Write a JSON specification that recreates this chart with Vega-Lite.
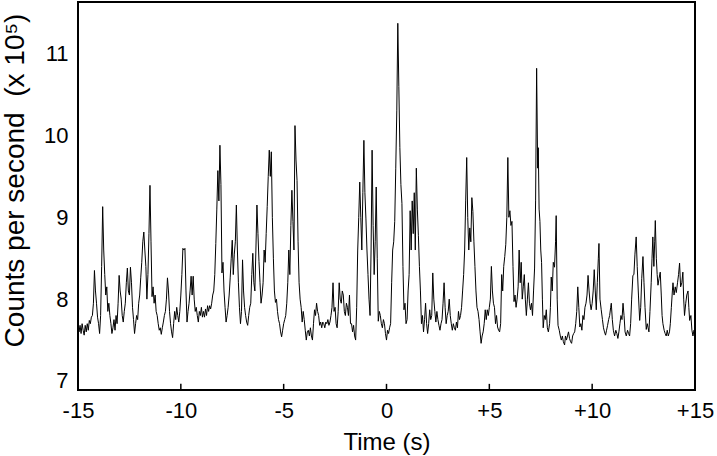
{
"$schema": "https://vega.github.io/schema/vega-lite/v6.json",
"width": 617, "height": 388,
"autosize": {"type": "none"},
"padding": {"left": 78, "top": 2, "right": 22, "bottom": 66},
"background": "white",
"config": {"view": {"stroke": "black", "strokeWidth": 2}, "font": "Liberation Sans"},
"layer": [
{
"data": {"values": [
{"t":-15.0,"v":7.72},{"t":-14.95,"v":7.60},{"t":-14.9,"v":7.68},{"t":-14.85,"v":7.58},{"t":-14.8,"v":7.70},{"t":-14.75,"v":7.62},{"t":-14.7,"v":7.56},{"t":-14.65,"v":7.68},{"t":-14.6,"v":7.60},{"t":-14.55,"v":7.70},{"t":-14.5,"v":7.62},{"t":-14.45,"v":7.74},{"t":-14.4,"v":7.70},{"t":-14.35,"v":7.78},{"t":-14.3,"v":7.80},{"t":-14.25,"v":7.95},{"t":-14.2,"v":8.35},{"t":-14.15,"v":8.10},{"t":-14.1,"v":7.95},{"t":-14.05,"v":7.78},{"t":-14.0,"v":7.70},{"t":-13.95,"v":7.58},{"t":-13.9,"v":7.80},{"t":-13.85,"v":8.40},{"t":-13.8,"v":9.13},{"t":-13.75,"v":8.60},{"t":-13.7,"v":8.30},{"t":-13.65,"v":8.05},{"t":-13.6,"v":8.15},{"t":-13.55,"v":7.85},{"t":-13.5,"v":7.95},{"t":-13.45,"v":7.80},{"t":-13.4,"v":7.70},{"t":-13.35,"v":7.58},{"t":-13.3,"v":7.65},{"t":-13.25,"v":7.75},{"t":-13.2,"v":7.62},{"t":-13.15,"v":7.80},{"t":-13.1,"v":7.70},{"t":-13.05,"v":7.95},{"t":-13.0,"v":8.29},{"t":-12.95,"v":8.10},{"t":-12.9,"v":8.00},{"t":-12.85,"v":7.80},{"t":-12.8,"v":7.72},{"t":-12.75,"v":7.85},{"t":-12.7,"v":7.95},{"t":-12.65,"v":8.20},{"t":-12.6,"v":8.38},{"t":-12.55,"v":8.10},{"t":-12.5,"v":8.05},{"t":-12.45,"v":8.39},{"t":-12.4,"v":8.20},{"t":-12.35,"v":7.90},{"t":-12.3,"v":7.75},{"t":-12.25,"v":7.58},{"t":-12.2,"v":7.70},{"t":-12.15,"v":7.80},{"t":-12.1,"v":7.75},{"t":-12.05,"v":7.95},{"t":-12.0,"v":8.05},{"t":-11.95,"v":8.26},{"t":-11.9,"v":8.45},{"t":-11.85,"v":8.70},{"t":-11.8,"v":8.82},{"t":-11.75,"v":8.60},{"t":-11.7,"v":8.40},{"t":-11.65,"v":8.00},{"t":-11.6,"v":8.30},{"t":-11.55,"v":8.80},{"t":-11.5,"v":9.39},{"t":-11.45,"v":8.70},{"t":-11.4,"v":8.03},{"t":-11.35,"v":8.15},{"t":-11.3,"v":7.95},{"t":-11.25,"v":8.05},{"t":-11.2,"v":7.85},{"t":-11.15,"v":7.80},{"t":-11.1,"v":7.70},{"t":-11.05,"v":7.62},{"t":-11.0,"v":7.65},{"t":-10.95,"v":7.57},{"t":-10.9,"v":7.65},{"t":-10.85,"v":7.72},{"t":-10.8,"v":7.80},{"t":-10.75,"v":7.85},{"t":-10.7,"v":8.00},{"t":-10.65,"v":8.26},{"t":-10.6,"v":8.10},{"t":-10.55,"v":7.85},{"t":-10.5,"v":7.70},{"t":-10.45,"v":7.60},{"t":-10.4,"v":7.53},{"t":-10.35,"v":7.70},{"t":-10.3,"v":7.85},{"t":-10.25,"v":7.75},{"t":-10.2,"v":7.90},{"t":-10.15,"v":7.80},{"t":-10.1,"v":7.72},{"t":-10.05,"v":7.85},{"t":-10.0,"v":8.05},{"t":-9.95,"v":8.30},{"t":-9.9,"v":8.62},{"t":-9.85,"v":8.60},{"t":-9.8,"v":8.62},{"t":-9.75,"v":8.10},{"t":-9.7,"v":7.72},{"t":-9.65,"v":7.85},{"t":-9.6,"v":7.95},{"t":-9.55,"v":8.10},{"t":-9.5,"v":8.28},{"t":-9.45,"v":8.05},{"t":-9.4,"v":8.28},{"t":-9.35,"v":8.00},{"t":-9.3,"v":7.85},{"t":-9.25,"v":7.90},{"t":-9.2,"v":7.80},{"t":-9.15,"v":7.72},{"t":-9.1,"v":7.85},{"t":-9.05,"v":7.80},{"t":-9.0,"v":7.90},{"t":-8.95,"v":7.78},{"t":-8.9,"v":7.85},{"t":-8.85,"v":7.78},{"t":-8.8,"v":7.88},{"t":-8.75,"v":7.80},{"t":-8.7,"v":7.92},{"t":-8.65,"v":7.85},{"t":-8.6,"v":7.92},{"t":-8.55,"v":7.88},{"t":-8.5,"v":7.95},{"t":-8.45,"v":8.05},{"t":-8.4,"v":8.10},{"t":-8.35,"v":8.30},{"t":-8.3,"v":8.68},{"t":-8.25,"v":9.10},{"t":-8.2,"v":9.57},{"t":-8.15,"v":9.20},{"t":-8.1,"v":9.88},{"t":-8.05,"v":9.40},{"t":-8.0,"v":8.32},{"t":-7.95,"v":8.45},{"t":-7.9,"v":8.10},{"t":-7.85,"v":7.90},{"t":-7.8,"v":7.72},{"t":-7.75,"v":7.80},{"t":-7.7,"v":7.90},{"t":-7.65,"v":8.05},{"t":-7.6,"v":8.26},{"t":-7.55,"v":8.50},{"t":-7.5,"v":8.72},{"t":-7.45,"v":8.30},{"t":-7.4,"v":8.55},{"t":-7.35,"v":8.70},{"t":-7.3,"v":9.15},{"t":-7.25,"v":8.60},{"t":-7.2,"v":8.20},{"t":-7.15,"v":7.90},{"t":-7.1,"v":7.70},{"t":-7.05,"v":7.85},{"t":-7.0,"v":8.48},{"t":-6.95,"v":8.10},{"t":-6.9,"v":7.90},{"t":-6.85,"v":7.80},{"t":-6.8,"v":7.72},{"t":-6.75,"v":7.68},{"t":-6.7,"v":7.80},{"t":-6.65,"v":7.90},{"t":-6.6,"v":7.95},{"t":-6.55,"v":8.30},{"t":-6.5,"v":8.56},{"t":-6.45,"v":8.20},{"t":-6.4,"v":8.10},{"t":-6.35,"v":8.60},{"t":-6.3,"v":9.15},{"t":-6.25,"v":8.80},{"t":-6.2,"v":8.46},{"t":-6.15,"v":8.20},{"t":-6.1,"v":7.95},{"t":-6.05,"v":8.05},{"t":-6.0,"v":8.20},{"t":-5.95,"v":8.60},{"t":-5.9,"v":8.45},{"t":-5.85,"v":8.80},{"t":-5.8,"v":9.13},{"t":-5.75,"v":9.50},{"t":-5.7,"v":9.82},{"t":-5.65,"v":9.50},{"t":-5.6,"v":9.80},{"t":-5.55,"v":9.00},{"t":-5.5,"v":8.50},{"t":-5.45,"v":8.10},{"t":-5.4,"v":7.96},{"t":-5.35,"v":8.00},{"t":-5.3,"v":7.85},{"t":-5.25,"v":7.75},{"t":-5.2,"v":7.70},{"t":-5.15,"v":7.60},{"t":-5.1,"v":7.54},{"t":-5.05,"v":7.62},{"t":-5.0,"v":7.70},{"t":-4.95,"v":7.75},{"t":-4.9,"v":7.80},{"t":-4.85,"v":7.95},{"t":-4.8,"v":8.20},{"t":-4.75,"v":8.60},{"t":-4.7,"v":8.30},{"t":-4.65,"v":8.90},{"t":-4.6,"v":9.33},{"t":-4.55,"v":8.95},{"t":-4.5,"v":8.60},{"t":-4.45,"v":10.12},{"t":-4.4,"v":9.70},{"t":-4.35,"v":9.45},{"t":-4.3,"v":8.70},{"t":-4.25,"v":8.20},{"t":-4.2,"v":8.00},{"t":-4.15,"v":7.90},{"t":-4.1,"v":7.72},{"t":-4.05,"v":7.85},{"t":-4.0,"v":7.75},{"t":-3.95,"v":7.62},{"t":-3.9,"v":7.50},{"t":-3.85,"v":7.60},{"t":-3.8,"v":7.62},{"t":-3.75,"v":7.55},{"t":-3.7,"v":7.65},{"t":-3.65,"v":7.55},{"t":-3.6,"v":7.50},{"t":-3.55,"v":7.70},{"t":-3.5,"v":7.87},{"t":-3.45,"v":7.80},{"t":-3.4,"v":7.95},{"t":-3.35,"v":7.85},{"t":-3.3,"v":7.80},{"t":-3.25,"v":7.68},{"t":-3.2,"v":7.72},{"t":-3.15,"v":7.65},{"t":-3.1,"v":7.72},{"t":-3.05,"v":7.70},{"t":-3.0,"v":7.65},{"t":-2.95,"v":7.72},{"t":-2.9,"v":7.70},{"t":-2.85,"v":7.75},{"t":-2.8,"v":7.68},{"t":-2.75,"v":7.72},{"t":-2.7,"v":7.80},{"t":-2.65,"v":7.90},{"t":-2.6,"v":8.20},{"t":-2.55,"v":7.85},{"t":-2.5,"v":7.90},{"t":-2.45,"v":7.70},{"t":-2.4,"v":7.65},{"t":-2.35,"v":7.85},{"t":-2.3,"v":8.20},{"t":-2.25,"v":8.00},{"t":-2.2,"v":7.95},{"t":-2.15,"v":8.10},{"t":-2.1,"v":8.05},{"t":-2.05,"v":7.85},{"t":-2.0,"v":7.80},{"t":-1.95,"v":7.95},{"t":-1.9,"v":7.90},{"t":-1.85,"v":7.80},{"t":-1.8,"v":8.05},{"t":-1.75,"v":7.70},{"t":-1.7,"v":7.70},{"t":-1.65,"v":7.60},{"t":-1.6,"v":7.68},{"t":-1.55,"v":7.55},{"t":-1.5,"v":7.50},{"t":-1.45,"v":7.90},{"t":-1.4,"v":8.60},{"t":-1.35,"v":9.00},{"t":-1.3,"v":9.43},{"t":-1.25,"v":9.00},{"t":-1.2,"v":8.60},{"t":-1.15,"v":9.30},{"t":-1.1,"v":9.94},{"t":-1.05,"v":9.30},{"t":-1.0,"v":8.98},{"t":-0.95,"v":8.60},{"t":-0.9,"v":8.30},{"t":-0.85,"v":8.00},{"t":-0.8,"v":7.80},{"t":-0.75,"v":8.60},{"t":-0.7,"v":9.82},{"t":-0.65,"v":8.90},{"t":-0.6,"v":8.30},{"t":-0.55,"v":8.70},{"t":-0.5,"v":9.37},{"t":-0.45,"v":8.50},{"t":-0.4,"v":7.73},{"t":-0.35,"v":7.85},{"t":-0.3,"v":7.80},{"t":-0.25,"v":7.70},{"t":-0.2,"v":7.65},{"t":-0.15,"v":7.75},{"t":-0.1,"v":7.70},{"t":-0.05,"v":7.58},{"t":0.0,"v":7.50},{"t":0.05,"v":7.62},{"t":0.1,"v":7.58},{"t":0.15,"v":7.65},{"t":0.2,"v":7.70},{"t":0.25,"v":8.20},{"t":0.3,"v":8.60},{"t":0.35,"v":8.70},{"t":0.4,"v":8.95},{"t":0.45,"v":9.60},{"t":0.5,"v":10.30},{"t":0.55,"v":11.37},{"t":0.6,"v":10.60},{"t":0.65,"v":9.85},{"t":0.7,"v":9.40},{"t":0.75,"v":9.17},{"t":0.8,"v":8.40},{"t":0.85,"v":7.87},{"t":0.9,"v":7.95},{"t":0.95,"v":7.70},{"t":1.0,"v":7.75},{"t":1.05,"v":8.10},{"t":1.1,"v":8.30},{"t":1.15,"v":9.08},{"t":1.2,"v":8.60},{"t":1.25,"v":9.20},{"t":1.3,"v":8.80},{"t":1.35,"v":9.30},{"t":1.4,"v":8.60},{"t":1.45,"v":9.60},{"t":1.5,"v":9.10},{"t":1.55,"v":8.78},{"t":1.6,"v":8.40},{"t":1.65,"v":8.10},{"t":1.7,"v":7.70},{"t":1.75,"v":7.80},{"t":1.8,"v":7.60},{"t":1.85,"v":7.75},{"t":1.9,"v":7.95},{"t":1.95,"v":7.70},{"t":2.0,"v":7.58},{"t":2.05,"v":7.70},{"t":2.1,"v":7.87},{"t":2.15,"v":7.75},{"t":2.2,"v":7.80},{"t":2.25,"v":8.32},{"t":2.3,"v":8.00},{"t":2.35,"v":7.85},{"t":2.4,"v":7.72},{"t":2.45,"v":7.85},{"t":2.5,"v":7.75},{"t":2.55,"v":7.68},{"t":2.6,"v":7.62},{"t":2.65,"v":7.70},{"t":2.7,"v":7.75},{"t":2.75,"v":7.95},{"t":2.8,"v":8.20},{"t":2.85,"v":7.90},{"t":2.9,"v":7.70},{"t":2.95,"v":7.80},{"t":3.0,"v":7.85},{"t":3.05,"v":8.00},{"t":3.1,"v":7.80},{"t":3.15,"v":7.70},{"t":3.2,"v":7.62},{"t":3.25,"v":7.70},{"t":3.3,"v":7.65},{"t":3.35,"v":7.62},{"t":3.4,"v":7.72},{"t":3.45,"v":7.65},{"t":3.5,"v":7.85},{"t":3.55,"v":7.75},{"t":3.6,"v":7.80},{"t":3.65,"v":7.90},{"t":3.7,"v":8.10},{"t":3.75,"v":8.30},{"t":3.8,"v":8.60},{"t":3.85,"v":9.20},{"t":3.9,"v":9.73},{"t":3.95,"v":9.00},{"t":4.0,"v":8.60},{"t":4.05,"v":8.87},{"t":4.1,"v":8.70},{"t":4.15,"v":9.24},{"t":4.2,"v":9.07},{"t":4.25,"v":8.70},{"t":4.3,"v":8.40},{"t":4.35,"v":8.10},{"t":4.4,"v":7.90},{"t":4.45,"v":7.85},{"t":4.5,"v":7.75},{"t":4.55,"v":7.60},{"t":4.6,"v":7.46},{"t":4.65,"v":7.55},{"t":4.7,"v":7.60},{"t":4.75,"v":7.70},{"t":4.8,"v":7.87},{"t":4.85,"v":7.75},{"t":4.9,"v":7.87},{"t":4.95,"v":7.80},{"t":5.0,"v":7.90},{"t":5.05,"v":8.00},{"t":5.1,"v":8.40},{"t":5.15,"v":8.10},{"t":5.2,"v":7.95},{"t":5.25,"v":7.90},{"t":5.3,"v":7.70},{"t":5.35,"v":7.80},{"t":5.4,"v":7.66},{"t":5.45,"v":7.62},{"t":5.5,"v":7.60},{"t":5.55,"v":7.70},{"t":5.6,"v":8.30},{"t":5.65,"v":8.10},{"t":5.7,"v":8.40},{"t":5.75,"v":8.52},{"t":5.8,"v":8.67},{"t":5.85,"v":9.00},{"t":5.9,"v":9.73},{"t":5.95,"v":9.00},{"t":6.0,"v":9.08},{"t":6.05,"v":8.90},{"t":6.1,"v":8.95},{"t":6.15,"v":8.40},{"t":6.2,"v":7.97},{"t":6.25,"v":8.05},{"t":6.3,"v":7.90},{"t":6.35,"v":8.00},{"t":6.4,"v":8.15},{"t":6.45,"v":8.60},{"t":6.5,"v":8.20},{"t":6.55,"v":8.45},{"t":6.6,"v":8.00},{"t":6.65,"v":8.15},{"t":6.7,"v":8.30},{"t":6.75,"v":8.00},{"t":6.8,"v":7.80},{"t":6.85,"v":8.00},{"t":6.9,"v":8.20},{"t":6.95,"v":7.95},{"t":7.0,"v":7.87},{"t":7.05,"v":7.95},{"t":7.1,"v":7.80},{"t":7.15,"v":8.10},{"t":7.2,"v":8.38},{"t":7.25,"v":9.20},{"t":7.3,"v":10.82},{"t":7.35,"v":9.60},{"t":7.38,"v":9.85},{"t":7.42,"v":9.10},{"t":7.46,"v":8.95},{"t":7.5,"v":8.60},{"t":7.54,"v":8.45},{"t":7.58,"v":8.00},{"t":7.62,"v":7.65},{"t":7.67,"v":7.80},{"t":7.72,"v":7.75},{"t":7.77,"v":7.87},{"t":7.82,"v":7.65},{"t":7.87,"v":7.60},{"t":7.93,"v":7.70},{"t":7.97,"v":7.90},{"t":8.01,"v":8.27},{"t":8.06,"v":8.10},{"t":8.11,"v":8.45},{"t":8.17,"v":8.39},{"t":8.22,"v":8.70},{"t":8.25,"v":9.02},{"t":8.3,"v":8.00},{"t":8.34,"v":7.68},{"t":8.4,"v":7.62},{"t":8.45,"v":7.55},{"t":8.5,"v":7.50},{"t":8.55,"v":7.55},{"t":8.6,"v":7.48},{"t":8.66,"v":7.44},{"t":8.7,"v":7.55},{"t":8.75,"v":7.50},{"t":8.8,"v":7.55},{"t":8.85,"v":7.60},{"t":8.9,"v":7.52},{"t":8.95,"v":7.48},{"t":9.0,"v":7.46},{"t":9.05,"v":7.55},{"t":9.1,"v":7.58},{"t":9.15,"v":7.60},{"t":9.2,"v":7.70},{"t":9.25,"v":7.85},{"t":9.3,"v":8.15},{"t":9.35,"v":7.90},{"t":9.4,"v":7.66},{"t":9.45,"v":7.70},{"t":9.5,"v":7.62},{"t":9.55,"v":7.80},{"t":9.6,"v":7.75},{"t":9.65,"v":7.90},{"t":9.7,"v":7.95},{"t":9.75,"v":8.05},{"t":9.8,"v":8.29},{"t":9.85,"v":8.10},{"t":9.9,"v":7.95},{"t":9.95,"v":7.87},{"t":10.0,"v":7.95},{"t":10.05,"v":8.10},{"t":10.1,"v":8.36},{"t":10.15,"v":8.10},{"t":10.2,"v":7.87},{"t":10.25,"v":8.20},{"t":10.3,"v":8.50},{"t":10.33,"v":8.68},{"t":10.38,"v":8.00},{"t":10.44,"v":7.87},{"t":10.5,"v":7.75},{"t":10.55,"v":7.65},{"t":10.6,"v":7.60},{"t":10.65,"v":7.56},{"t":10.7,"v":7.62},{"t":10.75,"v":7.68},{"t":10.8,"v":7.75},{"t":10.85,"v":7.80},{"t":10.9,"v":7.90},{"t":10.93,"v":7.95},{"t":10.98,"v":7.75},{"t":11.03,"v":7.62},{"t":11.09,"v":7.55},{"t":11.15,"v":7.62},{"t":11.2,"v":7.58},{"t":11.25,"v":7.52},{"t":11.3,"v":7.60},{"t":11.35,"v":7.70},{"t":11.4,"v":7.80},{"t":11.45,"v":7.75},{"t":11.5,"v":7.95},{"t":11.55,"v":7.80},{"t":11.6,"v":7.60},{"t":11.66,"v":7.55},{"t":11.72,"v":7.62},{"t":11.77,"v":7.58},{"t":11.82,"v":7.55},{"t":11.87,"v":7.70},{"t":11.92,"v":8.00},{"t":11.98,"v":8.29},{"t":12.03,"v":8.30},{"t":12.08,"v":8.55},{"t":12.14,"v":8.76},{"t":12.19,"v":8.40},{"t":12.25,"v":8.05},{"t":12.31,"v":7.74},{"t":12.36,"v":7.90},{"t":12.41,"v":8.25},{"t":12.47,"v":8.52},{"t":12.52,"v":8.20},{"t":12.57,"v":7.90},{"t":12.63,"v":7.63},{"t":12.68,"v":7.70},{"t":12.72,"v":7.65},{"t":12.76,"v":7.60},{"t":12.81,"v":7.85},{"t":12.87,"v":8.20},{"t":12.91,"v":8.50},{"t":12.95,"v":8.76},{"t":13.0,"v":8.40},{"t":13.04,"v":8.70},{"t":13.07,"v":8.96},{"t":13.12,"v":8.50},{"t":13.16,"v":8.30},{"t":13.2,"v":8.17},{"t":13.25,"v":8.25},{"t":13.31,"v":8.33},{"t":13.36,"v":8.05},{"t":13.4,"v":7.80},{"t":13.44,"v":7.70},{"t":13.5,"v":7.62},{"t":13.55,"v":7.58},{"t":13.6,"v":7.55},{"t":13.65,"v":7.62},{"t":13.7,"v":7.55},{"t":13.76,"v":7.60},{"t":13.8,"v":7.70},{"t":13.85,"v":7.90},{"t":13.9,"v":8.10},{"t":13.93,"v":8.20},{"t":13.98,"v":8.05},{"t":14.04,"v":8.15},{"t":14.09,"v":8.08},{"t":14.15,"v":8.20},{"t":14.2,"v":8.30},{"t":14.25,"v":8.44},{"t":14.3,"v":8.15},{"t":14.36,"v":8.20},{"t":14.41,"v":8.33},{"t":14.45,"v":8.00},{"t":14.49,"v":7.80},{"t":14.55,"v":7.95},{"t":14.6,"v":8.05},{"t":14.66,"v":8.10},{"t":14.7,"v":7.90},{"t":14.74,"v":7.74},{"t":14.8,"v":7.80},{"t":14.85,"v":7.62},{"t":14.9,"v":7.55},{"t":14.95,"v":7.62},{"t":15.0,"v":7.58}
]},
"mark": {"type": "line", "color": "black", "strokeWidth": 1, "clip": true},
"encoding": {
  "x": {"field": "t", "type": "quantitative",
    "scale": {"domain": [-15, 15], "nice": false, "zero": false},
    "axis": {"values": [-15, -10, -5, 0, 5, 10, 15],
      "labelExpr": "datum.value > 0 ? '+' + datum.value : '' + datum.value",
      "domain": false, "grid": false, "ticks": false,
      "labelFontSize": 22, "labelColor": "black", "labelPadding": 10, "labelFlush": false, "labelOverlap": false,
      "title": "Time (s)", "titleFontSize": 24, "titleFontWeight": "normal", "titleColor": "black", "titlePadding": 9}},
  "y": {"field": "v", "type": "quantitative",
    "scale": {"domain": [6.89, 11.63], "nice": false, "zero": false},
    "axis": {"values": [7, 8, 9, 10, 11], "format": "d", "domain": false, "grid": false, "ticks": false,
      "labelFontSize": 22, "labelColor": "black", "labelPadding": 10, "labelFlush": false, "labelOverlap": false,
      "title": "Counts per second\u00a0\u00a0(x 10⁵)", "titleY": 178, "titleFontSize": 28, "titleFontWeight": "normal", "titleColor": "black", "titlePadding": 14}}
}
},
{
"data": {"values": [{"t": -10}, {"t": -5}, {"t": 0}, {"t": 5}, {"t": 10}]},
"mark": {"type": "rule", "color": "black", "strokeWidth": 1.5},
"encoding": {
  "x": {"field": "t", "type": "quantitative"},
  "y": {"datum": 6.89, "type": "quantitative"},
  "y2": {"datum": 6.965}
}
}
]
}
